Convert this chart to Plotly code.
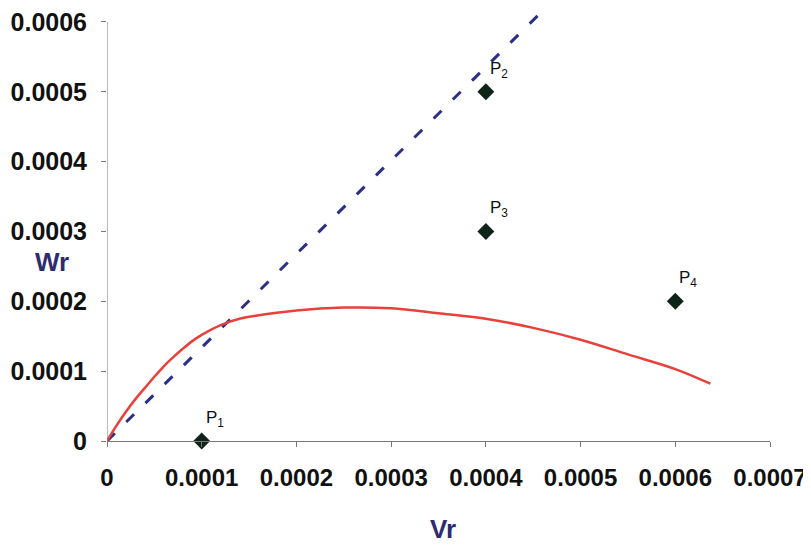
import plotly.graph_objects as go

# Red curve (Vr, Wr)
curve_x = [0, 0.00001, 0.00002, 0.00003, 0.00004, 0.00005, 0.00006, 0.00007, 0.00008, 0.00009,
           0.0001, 0.00012, 0.00014, 0.00016, 0.0002, 0.00025, 0.0003, 0.00035, 0.0004,
           0.00045, 0.0005, 0.00055, 0.0006, 0.000637]
curve_y = [0, 0.000022, 0.000042, 0.00006, 0.000076, 0.000092, 0.000107, 0.00012, 0.000132, 0.000143,
           0.000152, 0.000166, 0.000175, 0.00018, 0.000187, 0.000191, 0.00019, 0.000183, 0.000175,
           0.000162, 0.000145, 0.000124, 0.000103, 0.000082]

# Dashed straight line through origin
line_x = [0, 0.000463]
line_y = [0, 0.00062]

# Points
pt_x = [0.0001, 0.0004, 0.0004, 0.0006]
pt_y = [0.0, 0.0005, 0.0003, 0.0002]
pt_labels = ["P<sub>1</sub>", "P<sub>2</sub>", "P<sub>3</sub>", "P<sub>4</sub>"]

x_ticks = [0, 0.0001, 0.0002, 0.0003, 0.0004, 0.0005, 0.0006, 0.0007]
x_ticktext = ["0", "0.0001", "0.0002", "0.0003", "0.0004", "0.0005", "0.0006", "0.0007"]
y_ticks = [0, 0.0001, 0.0002, 0.0003, 0.0004, 0.0005, 0.0006]
y_ticktext = ["0", "0.0001", "0.0002", "0.0003", "0.0004", "0.0005", "0.0006"]

FONT = "Liberation Sans, Arial, sans-serif"

fig = go.Figure()
fig.add_trace(go.Scatter(x=line_x, y=line_y, mode="lines",
                         line=dict(color="#2B2F86", width=3, dash="11px,16px"),
                         showlegend=False))
fig.add_trace(go.Scatter(x=curve_x, y=curve_y, mode="lines", line_shape="spline",
                         line=dict(color="#E8413C", width=2.5), showlegend=False))
fig.add_trace(go.Scatter(x=pt_x, y=pt_y, mode="markers",
                         marker=dict(symbol="diamond", size=13, color="#0F2418"),
                         cliponaxis=False, showlegend=False))

for x, y, t in zip(pt_x, pt_y, pt_labels):
    fig.add_annotation(x=x, y=y, text=t, showarrow=False, xanchor="left", yanchor="bottom",
                       xshift=2, yshift=9, font=dict(family=FONT, size=17, color="#111"))

# y axis line only up to 0.0006
fig.add_shape(type="line", xref="x", yref="y", x0=0, x1=0, y0=0, y1=0.0006,
              line=dict(color="#777", width=1))

fig.add_annotation(text="Wr", xref="paper", yref="y", x=-0.083, y=0.000257, showarrow=False,
                   xanchor="center", yanchor="middle",
                   font=dict(family=FONT, size=26, color="#2E2C6E", weight="bold"))
fig.add_annotation(text="Vr", xref="x", yref="paper", x=0.000355, y=-0.203, showarrow=False,
                   xanchor="center", yanchor="middle",
                   font=dict(family=FONT, size=26, color="#2E2C6E", weight="bold"))

fig.update_xaxes(range=[0, 0.0007], tickvals=x_ticks, ticktext=x_ticktext, automargin=False,
                 showgrid=False, zeroline=False, showline=True, linecolor="#777", linewidth=1,
                 ticks="outside", ticklen=5, tickcolor="#777", ticklabelstandoff=10,
                 ticklabeloverflow="allow",
                 tickfont=dict(family=FONT, size=24, color="#111", weight="bold"))
fig.update_yaxes(range=[0, 0.00062], tickvals=y_ticks, ticktext=y_ticktext, automargin=False,
                 showgrid=False, zeroline=False, showline=False,
                 ticks="outside", ticklen=5, tickcolor="#777", ticklabelstandoff=9,
                 ticklabeloverflow="allow",
                 tickfont=dict(family=FONT, size=25, color="#111", weight="bold"))

# page body adds an 8px offset, so the figure is sized to fill the rest of the window
fig.update_layout(width=803, height=538, margin=dict(l=99, r=41, t=0, b=105),
                  paper_bgcolor="white", plot_bgcolor="white")

fig.write_html("out.html")
